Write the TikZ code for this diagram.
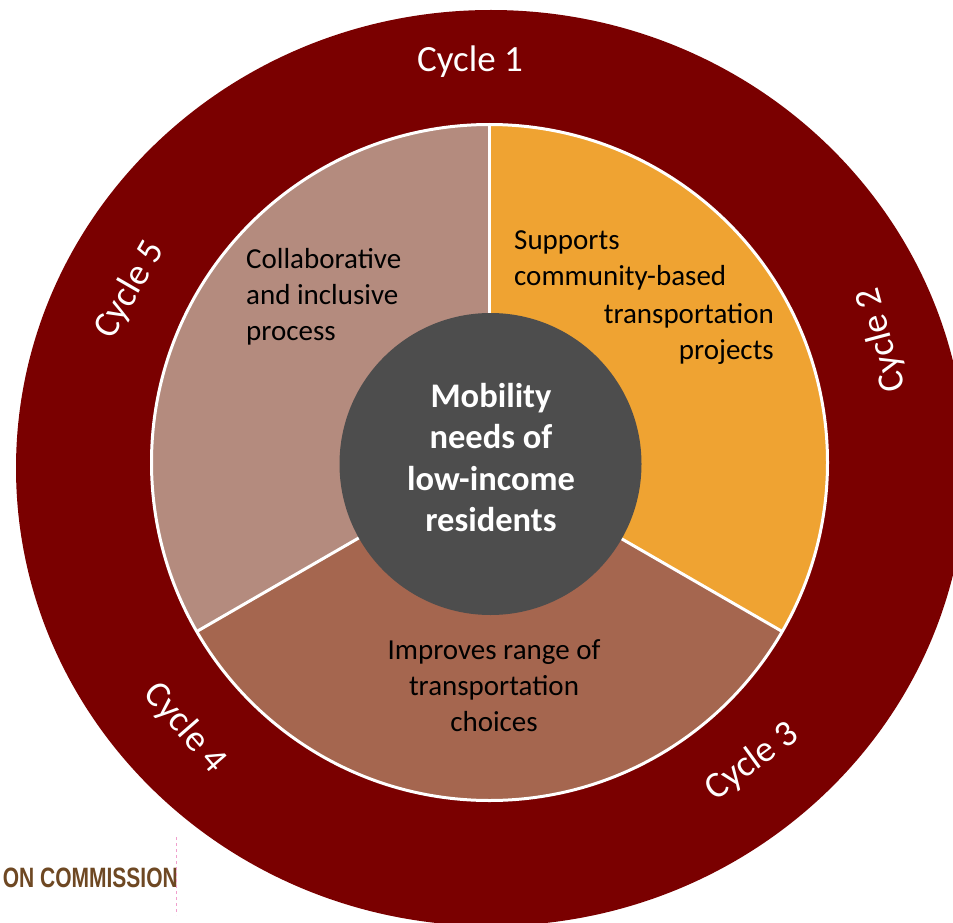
\documentclass[tikz,border=0pt]{standalone}
\usepackage{fontspec}
\setmainfont{Carlito}
\newfontfamily\stampfont{Liberation Sans}
\definecolor{cRing}{RGB}{122,0,0}
\definecolor{cOrange}{RGB}{239,163,50}
\definecolor{cBrown}{RGB}{165,102,79}
\definecolor{cPink}{RGB}{180,139,126}
\definecolor{cHub}{RGB}{77,77,77}
\definecolor{cStamp}{RGB}{110,72,35}
\definecolor{cDash}{RGB}{240,160,205}
\begin{document}
\begin{tikzpicture}[x=1pt,y=-1pt,
  cyc/.style={text=white, font=\fontsize{37}{44}\selectfont, inner sep=0pt},
  slicetxt/.style={text=black, font=\fontsize{29}{36}\selectfont, inner sep=0pt},
  lineTxt/.style={slicetxt, text height=20pt, text depth=6pt},
  hubtxt/.style={text=white, font=\bfseries\fontsize{34.5}{41.5}\selectfont, inner sep=0pt, align=center},
  sep/.style={draw=white, line width=3pt}]
\useasboundingbox (0,0) rectangle (953,923);
\clip (0,0) rectangle (953,923);
% outer ring
\fill[cRing] (491,468) ellipse [x radius=475, y radius=458];
% pie
\coordinate (C) at (489.5,462.5);
\fill[cOrange] (C) -- ++(-90:338) arc[start angle=-90, end angle=30, radius=338] -- cycle;
\fill[cBrown] (C) -- ++(30:338) arc[start angle=30, end angle=150, radius=338] -- cycle;
\fill[cPink] (C) -- ++(150:338) arc[start angle=150, end angle=270, radius=338] -- cycle;
\draw[sep] (C) circle[radius=338];
\draw[sep] (C) -- ++(-90:338);
\draw[sep] (C) -- ++(30:338);
\draw[sep] (C) -- ++(150:338);
% hub
\node[circle, fill=cHub, minimum size=302pt, inner sep=0pt] (hub) at (490.5,464) {};
\node[hubtxt] (hubtext) at (491,457.5) {Mobility\\needs of\\low-income\\residents};
% slice texts
\node[lineTxt, anchor=west] (s1) at (514,242) {Supports};
\node[lineTxt, anchor=west] (s2) at (514,278) {community-based};
\node[lineTxt, anchor=east] (s3) at (774,316) {transportation};
\node[lineTxt, anchor=east] (s4) at (774,352) {projects};
\node[slicetxt, align=left, anchor=west] (collab) at (246,297) {Collaborative\\and inclusive\\process};
\node[slicetxt, align=center] (improves) at (494,686) {Improves range of\\transportation\\choices};
% cycle labels
\node[cyc] (c1) at (470,62) {Cycle 1};
\node[cyc, rotate=105] (c2) at (882,340) {Cycle 2};
\node[cyc, rotate=36] (c3) at (752,762) {Cycle 3};
\node[cyc, rotate=-49] (c4) at (185,728) {Cycle 4};
\node[cyc, rotate=60] (c5) at (130,290) {Cycle 5};
% stamp
\node[anchor=base east, inner sep=0pt, text=cStamp] (comm) at (178,887) {\stampfont\bfseries\fontsize{28}{30}\selectfont\scalebox{0.75}[1]{ON COMMISSION}};
\coordinate (dt) at (176,837);
\coordinate (db) at (176,915);
\draw[cDash, dashed, line width=0.8pt] (dt) -- (db);
\end{tikzpicture}
\end{document}
